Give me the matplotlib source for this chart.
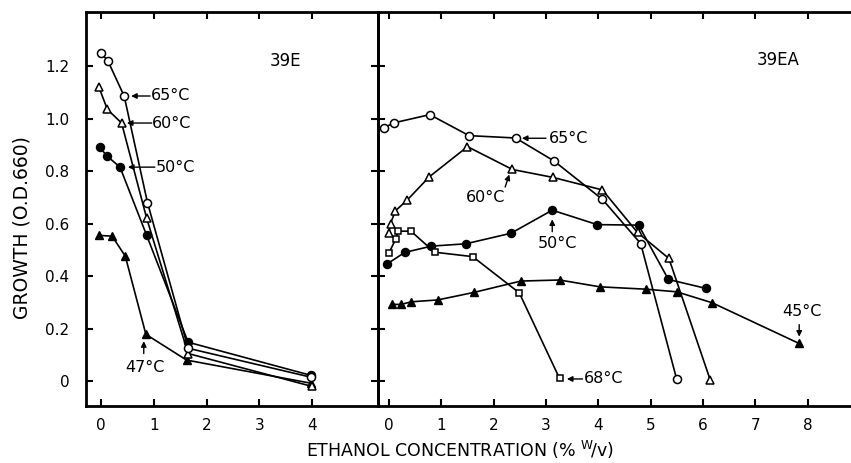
import matplotlib
matplotlib.use("Agg")
import matplotlib.pyplot as plt

# ---------------- data ----------------
# Panel 39E
e_65_x = [0.0, 0.13, 0.44, 0.88, 1.65, 3.97]
e_65_y = [1.25, 1.22, 1.085, 0.68, 0.125, 0.015]
e_60_x = [-0.04, 0.12, 0.39, 0.865, 1.65, 3.99]
e_60_y = [1.12, 1.035, 0.983, 0.62, 0.105, -0.02]
e_50_x = [-0.02, 0.11, 0.36, 0.865, 1.65, 3.97]
e_50_y = [0.89, 0.858, 0.815, 0.555, 0.148, 0.022]
e_47_x = [-0.04, 0.21, 0.46, 0.85, 1.62, 3.97]
e_47_y = [0.555, 0.552, 0.476, 0.178, 0.08, -0.008]

# Panel 39EA
ea_65_x = [-0.1, 0.1, 0.78, 1.53, 2.42, 3.15, 4.08, 4.81, 5.5]
ea_65_y = [0.965, 0.984, 1.015, 0.935, 0.926, 0.839, 0.692, 0.524, 0.006]
ea_60_x = [0.0, 0.03, 0.12, 0.35, 0.77, 1.5, 2.36, 3.13, 4.08, 4.75, 5.35, 6.14]
ea_60_y = [0.565, 0.60, 0.648, 0.69, 0.778, 0.893, 0.806, 0.776, 0.728, 0.566, 0.467, 0.004]
ea_50_x = [-0.03, 0.3, 0.81, 1.47, 2.33, 3.12, 3.98, 4.77, 5.34, 6.06]
ea_50_y = [0.447, 0.49, 0.514, 0.523, 0.563, 0.651, 0.596, 0.594, 0.387, 0.353]
ea_45_x = [0.05, 0.23, 0.43, 0.93, 1.63, 2.52, 3.26, 4.03, 4.91, 5.5, 6.18, 7.83]
ea_45_y = [0.292, 0.292, 0.302, 0.309, 0.338, 0.381, 0.385, 0.359, 0.35, 0.34, 0.298, 0.144]
ea_68_x = [0.0, 0.13, 0.17, 0.42, 0.87, 1.6, 2.49, 3.26]
ea_68_y = [0.489, 0.541, 0.571, 0.571, 0.491, 0.474, 0.336, 0.01]

y_ticks = [0.0, 0.2, 0.4, 0.6, 0.8, 1.0, 1.2]
y_tick_labels = ["0", "0.2", "0.4", "0.6", "0.8", "1.0", "1.2"]
left_xticks = [0, 1, 2, 3, 4]
right_xticks = [0, 1, 2, 3, 4, 5, 6, 7, 8]

# ---------------- figure ----------------
W, H = 851, 463
fig = plt.figure(figsize=(W / 100, H / 100), dpi=100)
plt.rcParams['font.family'] = ['DejaVu Sans']

def frac(x0, x1, ytop, ybot):
    return [x0 / W, 1 - ybot / H, (x1 - x0) / W, (ybot - ytop) / H]

axL = fig.add_axes(frac(86, 378, 12, 406))
axR = fig.add_axes(frac(378, 851, 12, 406))

ylim = (-0.095, 1.406)
axL.set_xlim(-0.284, 5.246)
axR.set_xlim(-0.21, 8.83)
for ax in (axL, axR):
    ax.set_ylim(*ylim)
    ax.patch.set_alpha(0)

lw = 1.2
ms = 5.8
k = 'black'
def open_(m, size=ms):
    return dict(marker=m, markersize=size, markerfacecolor='white', markeredgecolor=k,
                markeredgewidth=1.1, color=k, lw=lw)
def filled(m, size=ms):
    return dict(marker=m, markersize=size, markerfacecolor=k, markeredgecolor=k,
                markeredgewidth=1.0, color=k, lw=lw)

axL.plot(e_47_x, e_47_y, **filled('^'))
axL.plot(e_50_x, e_50_y, **filled('o'))
axL.plot(e_60_x, e_60_y, **open_('^'))
axL.plot(e_65_x, e_65_y, **open_('o'))

axR.plot(ea_45_x, ea_45_y, **filled('^'))
axR.plot(ea_50_x, ea_50_y, **filled('o'))
axR.plot(ea_68_x, ea_68_y, **open_('s', 5.0))
axR.plot(ea_60_x, ea_60_y, **open_('^'))
axR.plot(ea_65_x, ea_65_y, **open_('o'))

fs_tick = 11
for ax in (axL, axR):
    for s in ax.spines.values():
        s.set_linewidth(2.0)
    ax.tick_params(direction='in', length=5, width=1.5, top=True, labelsize=fs_tick, pad=9)
axR.spines['right'].set_visible(False)

axL.set_xticks(left_xticks)
axL.set_xticklabels([str(v) for v in left_xticks])
axR.set_xticks(right_xticks)
axR.set_xticklabels([str(v) for v in right_xticks])
axL.set_yticks(y_ticks)
axL.set_yticklabels(y_tick_labels)
axL.tick_params(axis='y', right=True, pad=12)
axR.set_yticks(y_ticks)
axR.tick_params(axis='y', left=True, right=False, labelleft=False)

# panel labels
axL.text(3.5, (381 - 61) / 262.5, "39E", ha='center', va='center', fontsize=12)
axR.text((777.5 - 389) / 52.3, (381 - 60) / 262.5, "39EA", ha='center', va='center', fontsize=12)

fs_ann = 11.5
aprops = dict(arrowstyle='-|>', color=k, lw=1.0, mutation_scale=8, shrinkA=0, shrinkB=0)

def ann(ax, text, tip, tail, txt, ha, va='center'):
    ax.annotate("", xy=tip, xytext=tail, arrowprops=aprops)
    ax.text(txt[0], txt[1], text, ha=ha, va=va, fontsize=fs_ann)

# left panel
ann(axL, "65°C", (0.57, 1.086), (0.93, 1.086), (0.94, 1.086), 'left')
ann(axL, "60°C", (0.49, 0.983), (0.96, 0.983), (0.97, 0.983), 'left')
ann(axL, "50°C", (0.51, 0.815), (1.02, 0.815), (1.03, 0.815), 'left')
ann(axL, "47°C", (0.81, 0.152), (0.81, 0.105), (0.83, 0.05), 'center')

# right panel
ann(axR, "65°C", (2.54, 0.925), (3.0, 0.925), (3.06, 0.925), 'left')
ann(axR, "60°C", (2.30, 0.787), (2.22, 0.739), (1.84, 0.70), 'center')
ann(axR, "50°C", (3.12, 0.616), (3.12, 0.569), (3.22, 0.525), 'center')
ann(axR, "68°C", (3.40, 0.008), (3.70, 0.008), (3.72, 0.008), 'left')
ann(axR, "45°C", (7.84, 0.169), (7.84, 0.215), (7.89, 0.264), 'center')

fig.text(22 / W, 1 - 228 / H, "GROWTH (O.D.660)", rotation=90, ha='center', va='center',
         fontsize=13.5)
fig.text(460 / W, 1 - 450 / H,
         r"ETHANOL CONCENTRATION (% $^{\mathrm{W}}\!/\mathrm{v}$)",
         ha='center', va='center', fontsize=12.5)

fig.savefig("out.png", dpi=100)
